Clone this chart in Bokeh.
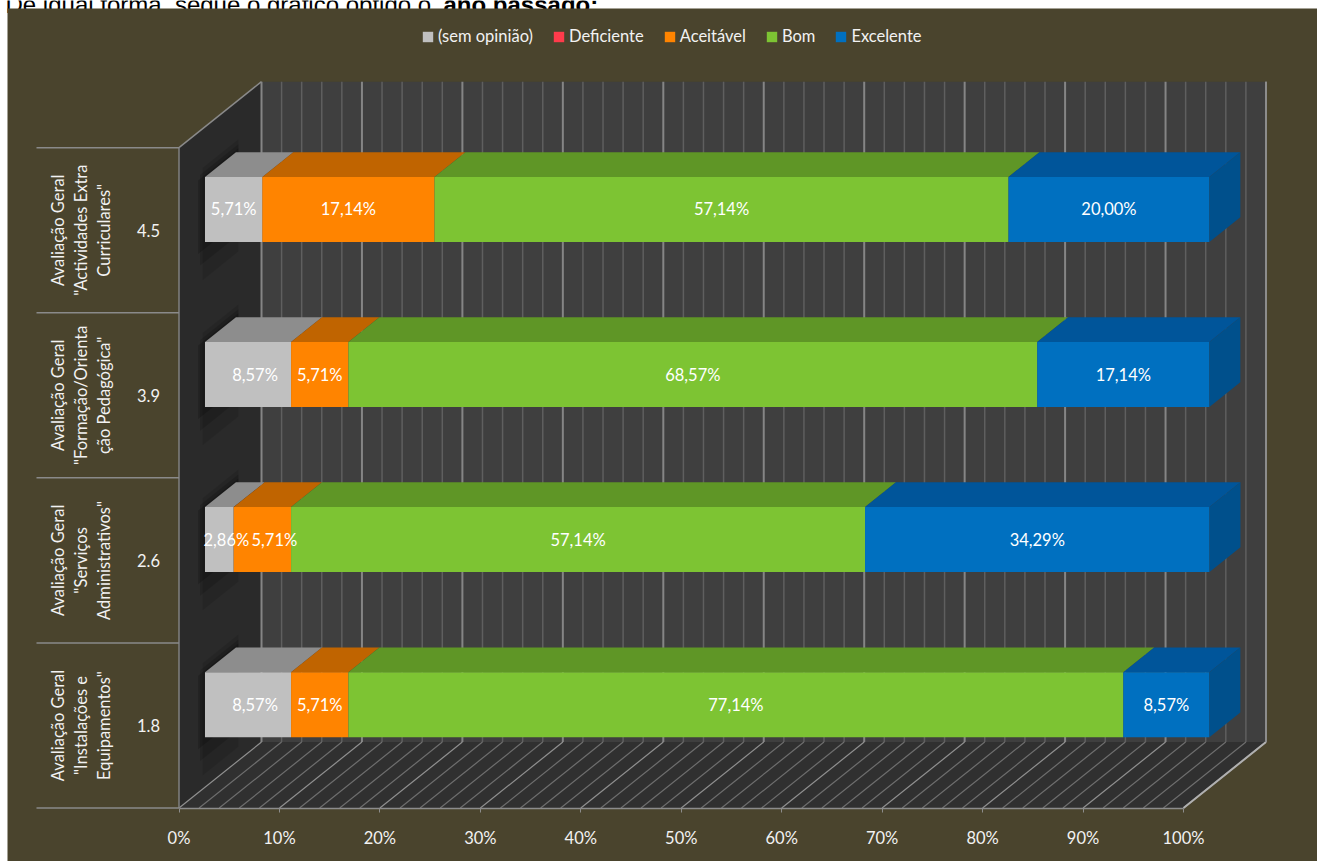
from bokeh.plotting import figure
from bokeh.models import (ColumnDataSource, LinearAxis, FixedTicker, Legend, LegendItem, Range1d)
from bokeh.core.properties import value
from bokeh.embed import file_html
from bokeh.resources import INLINE
import math

# ---- data ----
scores = ["1.8", "2.6", "3.9", "4.5"]
group_labels = [
    'Avaliação Geral\n"Instalações e\nEquipamentos"',
    'Avaliação Geral\n"Serviços\nAdministrativos"',
    'Avaliação Geral\n"Formação/Orienta\nção Pedagógica"',
    'Avaliação Geral\n"Actividades Extra\nCurriculares"',
]
series_names = ["(sem opinião)", "Deficiente", "Aceitável", "Bom", "Excelente"]
sem_opiniao = [8.57, 2.86, 8.57, 5.71]
deficiente = [0, 0, 0, 0]
aceitavel = [5.71, 5.71, 5.71, 17.14]
bom = [77.14, 57.14, 68.57, 57.14]
excelente = [8.57, 34.29, 17.14, 20.00]
x_ticks = list(range(0, 101, 10))
caption_regular = "De igual forma, segue o gráfico obtido o "
caption_bold = "ano passado"
caption_end = ":"

# ---- style ----
front_colors = ["#c0c0c0", "#ff3b4b", "#ff8400", "#7dc433", "#0070c0"]
top_colors = ["#8d8d8d", "#b82a36", "#c06400", "#5f9626", "#00559a"]
side_color = "#00508c"
BG = "#4a442d"
TXT = "#f2f2f2"
FONT = "Lato"
FS = "16.5px"

W, H = 1317, 861
PX_PER_PCT, PX_PER_BAND = 10.045, 165.1
ORIGIN_X, ORIGIN_Y = 178.5, 725      # page position of 0% / first band centre
DEPTH_X, DEPTH_Y = 82.5 / PX_PER_PCT, 66 / PX_PER_BAND
BAR_FRONT, BAR_BACK = 0.315, 0.69
BAR_HALF = 32.5 / PX_PER_BAND
Y0, Y1 = -0.5, 3.5

def px_x(v):
    return (v - ORIGIN_X) / PX_PER_PCT

def px_y(v):
    return (ORIGIN_Y - v) / PX_PER_BAND

def proj(pct, band, depth):
    return pct + depth * DEPTH_X, band + depth * DEPTH_Y

def poly(points):
    xs, ys = zip(*[proj(*pt) for pt in points])
    return list(xs), list(ys)

p = figure(width=W, height=H, output_backend="svg", toolbar_location=None,
           x_axis_location=None, y_axis_location=None,
           x_range=Range1d(px_x(0), px_x(W)), y_range=Range1d(px_y(H), px_y(0)),
           background_fill_color="#ffffff", border_fill_color="#ffffff",
           min_border=0, outline_line_color=None)
p.grid.visible = False

# caption of the page above the chart, cut off by the chart area as in the reference
p.text(x=[px_x(5)], y=[px_y(3.5)], text=[caption_regular], text_color="#000000",
       text_font=value("Liberation Sans"), text_font_size="24px",
       text_align="left", text_baseline="alphabetic")
p.text(x=[px_x(443)], y=[px_y(3.5)], text=[caption_bold + caption_end], text_color="#000000",
       text_font=value("Liberation Sans"), text_font_size="24px", text_font_style="bold",
       text_align="left", text_baseline="alphabetic")

# chart area
p.quad(left=[px_x(7)], right=[px_x(W)], bottom=[px_y(H)], top=[px_y(8)], fill_color=BG, line_color=None)

# walls
x, y = poly([(0, Y0, 1), (100, Y0, 1), (100, Y1, 1), (0, Y1, 1)])
p.patch(x, y, fill_color="#3f3f3f", line_color=None)
x, y = poly([(0, Y0, 0), (0, Y1, 0), (0, Y1, 1), (0, Y0, 1)])
p.patch(x, y, fill_color="#2a2a2a", line_color=None)
x, y = poly([(0, Y0, 0), (100, Y0, 0), (100, Y0, 1), (0, Y0, 1)])
p.patch(x, y, fill_color="#303030", line_color=None)

# soft shadows of the bars on the side wall
for i in range(4):
    for grow, alpha in [(0.22, 0.10), (0.12, 0.14), (0.04, 0.18)]:
        x, y = poly([(0, i - BAR_HALF - grow, 0.22 + grow * 0.3), (0, i + BAR_HALF + grow * 0.3, 0.22 + grow * 0.3),
                     (0, i + BAR_HALF + grow * 0.3, 0.72), (0, i - BAR_HALF - grow, 0.72)])
        p.patch(x, y, fill_color="#000000", fill_alpha=alpha, line_color=None)

# gridlines
for pct in range(0, 101, 2):
    major = pct % 10 == 0
    xa, ya = proj(pct, Y0, 1)
    xb, yb = proj(pct, Y1, 1)
    p.line([xa, xb], [ya, yb], line_color="#858585" if major else "#5f5f5f", line_width=2 if major else 1.5)
    xc, yc = proj(pct, Y0, 0)
    p.line([xc, xa], [yc, ya], line_color="#909090" if major else "#6e6e6e", line_width=1.2)

# wall edges
for a, b, c, w in [((0, Y1, 0), (0, Y1, 1), "#8a8a8a", 1.5),
                   ((0, Y0, 0), (0, Y1, 0), "#808080", 1.5),
                   ((100, Y0, 0), (100, Y0, 1), "#b0b0b0", 2),
                   ((100, Y0, 1), (100, Y1, 1), "#8c8c8c", 2)]:
    xa, ya = proj(*a)
    xb, yb = proj(*b)
    p.line([xa, xb], [ya, yb], line_color=c, line_width=w)

# category separators running to the left of the wall
sep_left = px_x(36)
for i in range(5):
    p.line([sep_left, 0], [i - 0.5, i - 0.5], line_color="#8a8a8a", line_width=1.5)

# stacked 3D bars
series = [sem_opiniao, deficiente, aceitavel, bom, excelente]
label_nudge = {(0, 0): 7, (0, 2): 7, (0, 1): 7, (2, 1): 12}
off_x, off_y = BAR_FRONT * DEPTH_X, BAR_FRONT * DEPTH_Y
lab_x, lab_y, lab_t, lab_off = [], [], [], []
renderers = []
bottoms = [0.0] * 4
for s, vals in enumerate(series):
    lefts = bottoms[:]
    rights = [a + v for a, v in zip(lefts, vals)]
    for i in range(4):
        if vals[i] == 0:
            continue
        t = i + BAR_HALF
        x, y = poly([(lefts[i], t, BAR_FRONT), (rights[i], t, BAR_FRONT),
                     (rights[i], t, BAR_BACK), (lefts[i], t, BAR_BACK)])
        p.patch(x, y, fill_color=top_colors[s], line_color=None)
        lab_x.append((lefts[i] + rights[i]) / 2 + off_x)
        lab_y.append(i + off_y)
        lab_t.append(f"{vals[i]:.2f}%".replace(".", ","))
        lab_off.append(label_nudge.get((s, i), 0))
    src = ColumnDataSource(dict(
        left=[a + off_x for a in lefts], right=[b + off_x for b in rights],
        bottom=[i + off_y - BAR_HALF for i in range(4)],
        top=[i + off_y + BAR_HALF for i in range(4)]))
    r = p.quad(left="left", right="right", bottom="bottom", top="top", source=src,
               fill_color=front_colors[s], line_color=None)
    renderers.append(r)
    bottoms = rights
for i in range(4):
    x, y = poly([(bottoms[i], i - BAR_HALF, BAR_FRONT), (bottoms[i], i + BAR_HALF, BAR_FRONT),
                 (bottoms[i], i + BAR_HALF, BAR_BACK), (bottoms[i], i - BAR_HALF, BAR_BACK)])
    p.patch(x, y, fill_color=side_color, line_color=None)

p.text(x="x", y="y", text="t", x_offset="o",
       source=ColumnDataSource(dict(x=lab_x, y=lab_y, t=lab_t, o=lab_off)),
       text_color="#ffffff", text_font=value(FONT), text_font_size=FS,
       text_align="center", text_baseline="middle")

# group labels
p.text(x=[px_x(80)] * 4, y=[0, 1, 2, 3], text=group_labels, angle=math.pi / 2,
       text_color=TXT, text_font=value(FONT), text_font_size=FS,
       text_align="center", text_baseline="middle", text_line_height=1.15)

# axes
xaxis = LinearAxis(fixed_location=Y0, bounds=(0, 100),
                   ticker=FixedTicker(ticks=x_ticks),
                   major_label_overrides={t: f"{t}%" for t in x_ticks},
                   axis_line_color="#8c8c8c", axis_line_width=1.5,
                   major_tick_line_color="#8c8c8c", major_tick_in=0, major_tick_out=4,
                   minor_tick_line_color=None,
                   major_label_text_color=TXT, major_label_text_font=FONT,
                   major_label_text_font_size=FS, major_label_standoff=16)
p.add_layout(xaxis, "below")
yaxis = LinearAxis(fixed_location=0, ticker=FixedTicker(ticks=[0, 1, 2, 3]),
                   major_label_overrides={i: s for i, s in enumerate(scores)},
                   axis_line_color=None, major_tick_line_color=None, minor_tick_line_color=None,
                   major_tick_in=0, major_tick_out=0,
                   major_label_orientation="horizontal",
                   major_label_text_color=TXT, major_label_text_font=FONT,
                   major_label_text_font_size=FS, major_label_standoff=19)
p.add_layout(yaxis, "left")

legend = Legend(items=[LegendItem(label=n, renderers=[r]) for n, r in zip(series_names, renderers)],
                orientation="horizontal", location=(421, H - 46), background_fill_alpha=0,
                border_line_color=None, padding=0, margin=0, spacing=19,
                glyph_width=13, glyph_height=13, label_standoff=4,
                label_text_color=TXT, label_text_font=FONT, label_text_font_size=FS)
p.add_layout(legend, "center")

open("out.html", "w").write(file_html(p, INLINE))
